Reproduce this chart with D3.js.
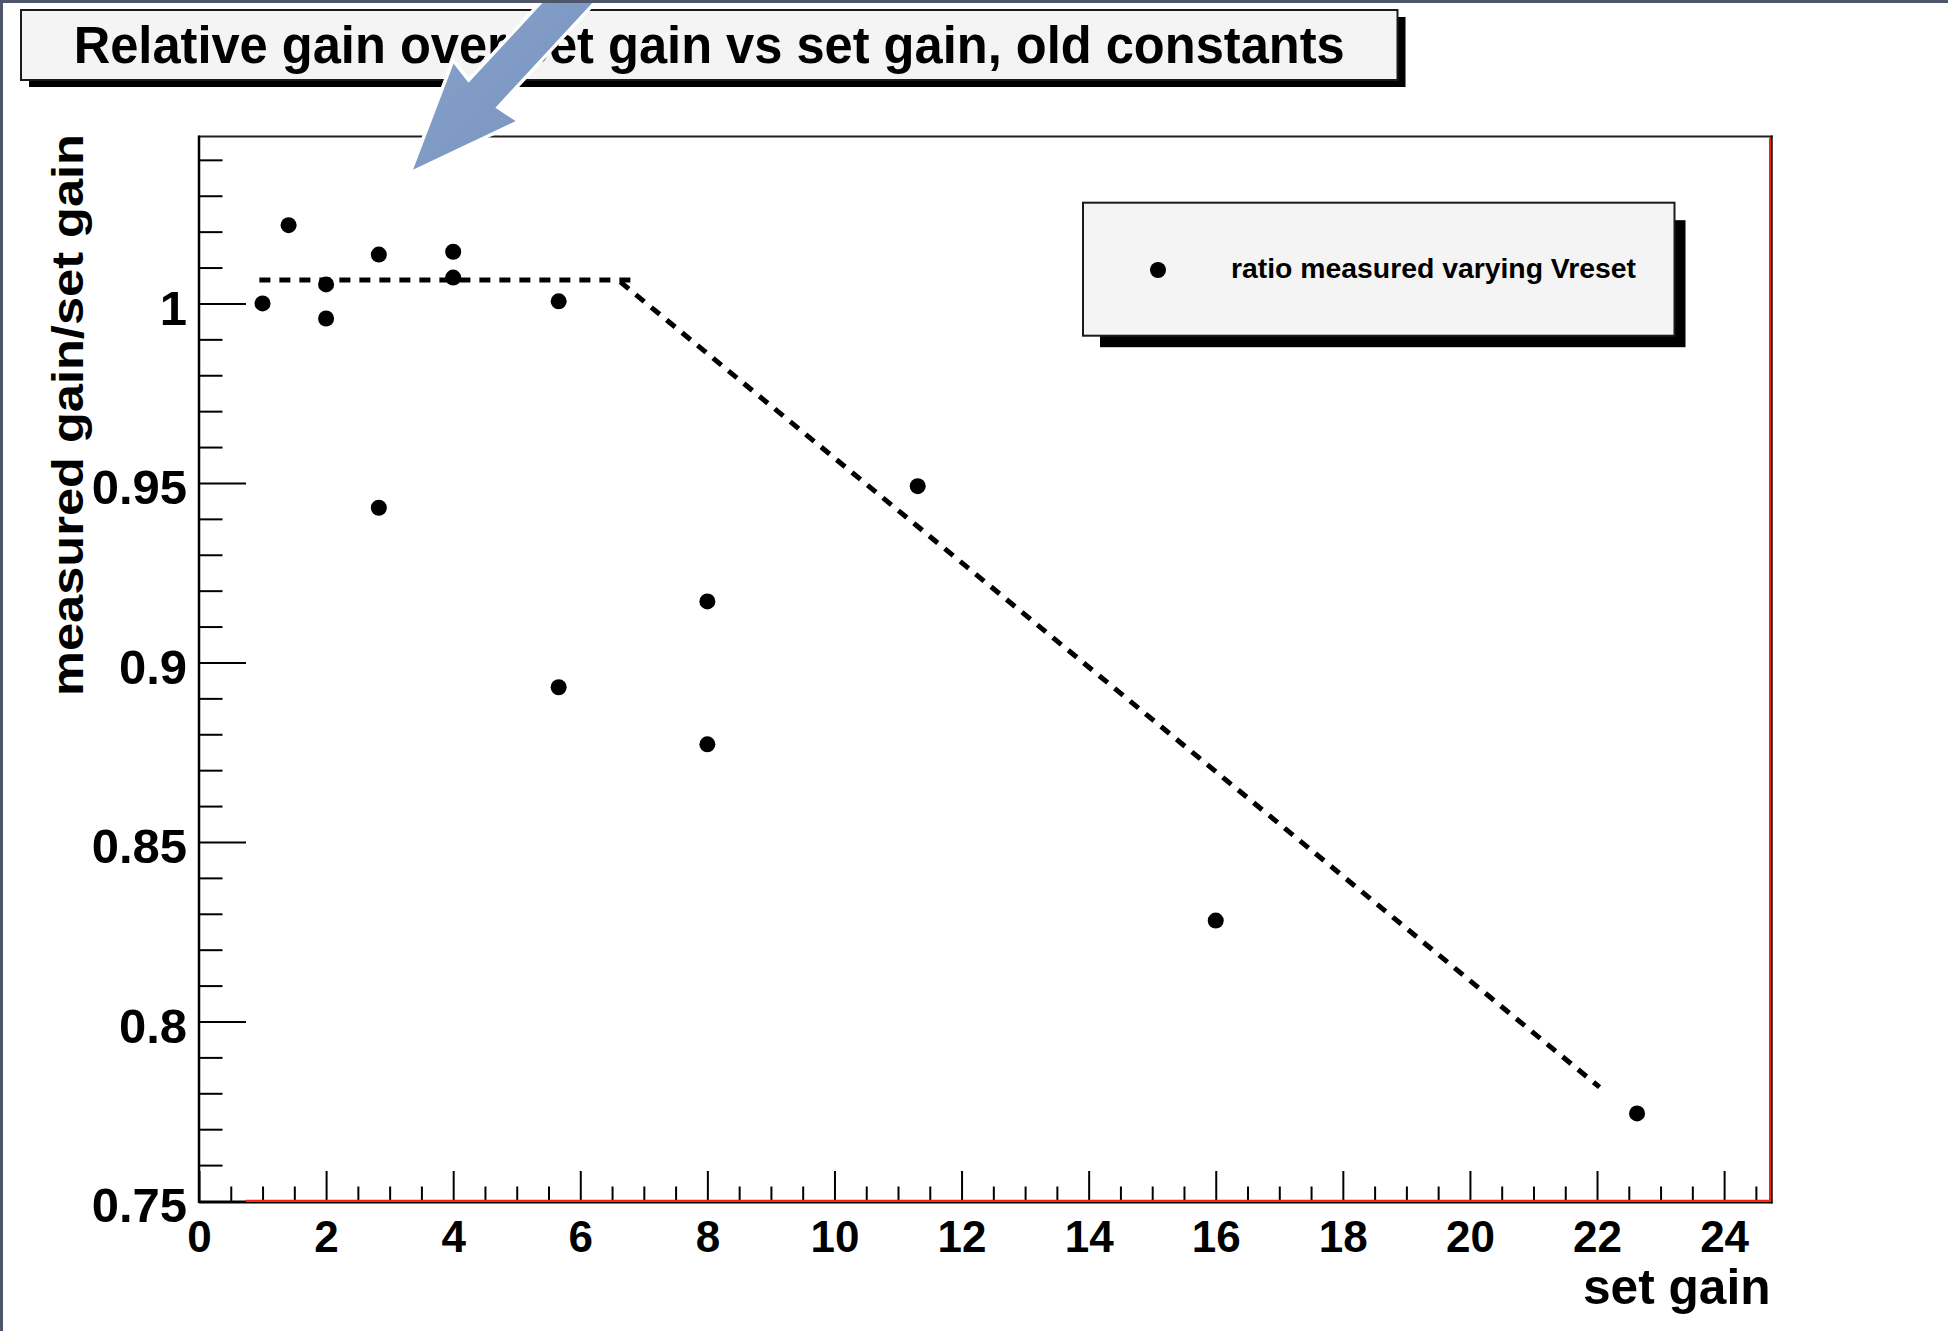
<!DOCTYPE html>
<html>
<head>
<meta charset="utf-8">
<script src="https://cdn.jsdelivr.net/npm/d3@7"></script>
<style>
  html, body { margin: 0; padding: 0; background: #ffffff; }
  svg { display: block; }
  text { font-family: "Liberation Sans", Arial, Helvetica, sans-serif; font-weight: bold; fill: #000; }
</style>
</head>
<body>
<svg id="chart" width="1948" height="1331"></svg>
<script>
// ---- data ----
const setGain   = [1, 1.41, 2, 2, 2.83, 2.83, 4, 4, 5.66, 5.66, 8, 8, 11.31, 16, 22.63];
const gainRatio = [1.000, 1.0218, 1.0053, 0.9958, 1.0136, 0.9431, 1.0144, 1.0072, 1.0006, 0.8931, 0.917, 0.8772, 0.9491, 0.8281, 0.7744];

// dashed guide: flat plateau, then a falling slope
const plateauX = [0.95, 6.84];
const plateauY = [1.0065, 1.0065];
const slopeX   = [6.63, 22.04];
const slopeY   = [1.006, 0.7817];

const xMajorTicks = [0, 2, 4, 6, 8, 10, 12, 14, 16, 18, 20, 22, 24];
const yMajorTicks = [0.75, 0.8, 0.85, 0.9, 0.95, 1];
const yTickLabels = ["0.75", "0.8", "0.85", "0.9", "0.95", "1"];

const titleText   = "Relative gain over set gain vs set gain, old constants";
const xTitle      = "set gain";
const yTitle      = "measured gain/set gain";
const legendLabel = "ratio measured varying Vreset";

// ---- layout ----
const W = 1948, H = 1331;
const frame = { left: 199, top: 136.5, right: 1770.5, bottom: 1201 };
const xDomain = [0, 24.73];
const yDomain = [0.75, 1.0465];

const svg = d3.select("#chart");

const x = d3.scaleLinear().domain(xDomain).range([frame.left, frame.right]);
const y = d3.scaleLinear().domain(yDomain).range([frame.bottom, frame.top]);

svg.append("rect").attr("x", 0).attr("y", 0).attr("width", W).attr("height", H).attr("fill", "#ffffff");

// ---- title box with drop shadow ----
const tb = { x: 21, y: 10, w: 1376.5, h: 70 };
svg.append("rect").attr("x", tb.x + 8).attr("y", tb.y + 7).attr("width", tb.w).attr("height", tb.h).attr("fill", "#000");
svg.append("rect").attr("x", tb.x).attr("y", tb.y).attr("width", tb.w).attr("height", tb.h)
  .attr("fill", "#f4f4f4").attr("stroke", "#1a1a1a").attr("stroke-width", 2);
svg.append("text").attr("x", 73.7).attr("y", 63)
  .attr("font-size", 51).attr("textLength", 1271).attr("lengthAdjust", "spacingAndGlyphs")
  .text(titleText);

// ---- axes ----
const yMinor = d3.range(0.75, 1.0451, 0.01).map(v => +v.toFixed(2)).filter(v => !yMajorTicks.includes(v));
const xMinor = d3.range(0, 24.51, 0.5).filter(v => v % 2 !== 0);

const gx = svg.append("g").attr("transform", `translate(0,${frame.bottom})`);
gx.append("g").call(d3.axisBottom(x).tickValues(xMinor).tickSizeInner(-14.5).tickSizeOuter(0).tickFormat(""));
gx.append("g").call(d3.axisBottom(x).tickValues(xMajorTicks).tickSizeInner(-30).tickSizeOuter(0)
  .tickPadding(20).tickFormat(d3.format("d")));
gx.selectAll(".domain").remove();
gx.selectAll("line").attr("stroke", "#000").attr("stroke-width", 2);
gx.selectAll("text").attr("font-size", 44).attr("font-family", "Liberation Sans, Arial, sans-serif")
  .attr("font-weight", "bold").attr("fill", "#000");

const gy = svg.append("g").attr("transform", `translate(${frame.left},0)`);
gy.append("g").call(d3.axisLeft(y).tickValues(yMinor).tickSizeInner(-23.5).tickSizeOuter(0).tickFormat(""));
gy.append("g").call(d3.axisLeft(y).tickValues(yMajorTicks).tickSizeInner(-47).tickSizeOuter(0)
  .tickPadding(12).tickFormat((d, i) => yTickLabels[i]));
gy.selectAll(".domain").remove();
gy.selectAll("line").attr("stroke", "#000").attr("stroke-width", 2);
gy.selectAll("text").attr("font-size", 49).attr("dy", "0.42em").attr("font-family", "Liberation Sans, Arial, sans-serif")
  .attr("font-weight", "bold").attr("fill", "#000");

// ---- frame ----
svg.append("line").attr("x1", frame.left).attr("x2", frame.right + 2).attr("y1", frame.top).attr("y2", frame.top)
  .attr("stroke", "#222").attr("stroke-width", 2);
svg.append("line").attr("x1", frame.left).attr("x2", frame.left).attr("y1", frame.top - 1).attr("y2", frame.bottom + 2)
  .attr("stroke", "#000").attr("stroke-width", 2.5);
// bottom edge: black base with red frame line
svg.append("line").attr("x1", frame.left).attr("x2", frame.right + 2).attr("y1", frame.bottom + 1.5).attr("y2", frame.bottom + 1.5)
  .attr("stroke", "#000").attr("stroke-width", 2);
svg.append("line").attr("x1", frame.left + 47).attr("x2", frame.right).attr("y1", frame.bottom - 0.3).attr("y2", frame.bottom - 0.3)
  .attr("stroke", "#ff1e0a").attr("stroke-width", 2);
// right edge
svg.append("line").attr("x1", frame.right + 1.3).attr("x2", frame.right + 1.3).attr("y1", frame.top - 1).attr("y2", frame.bottom + 2.5)
  .attr("stroke", "#000").attr("stroke-width", 1.8);
svg.append("line").attr("x1", frame.right - 0.5).attr("x2", frame.right - 0.5).attr("y1", frame.top + 1).attr("y2", frame.bottom)
  .attr("stroke", "#ff1e0a").attr("stroke-width", 2);

// ---- axis titles ----
svg.append("text").attr("x", frame.right).attr("y", 1304).attr("text-anchor", "end")
  .attr("font-size", 50).attr("textLength", 187.5).attr("lengthAdjust", "spacingAndGlyphs").text(xTitle);
svg.append("text").attr("transform", "translate(83,696) rotate(-90)")
  .attr("font-size", 44).attr("textLength", 562).attr("lengthAdjust", "spacingAndGlyphs").text(yTitle);

// ---- dashed guide lines ----
const line = d3.line().x(d => x(d[0])).y(d => y(d[1]));
svg.append("path").datum(d3.zip(plateauX, plateauY)).attr("d", line)
  .attr("fill", "none").attr("stroke", "#000").attr("stroke-width", 5).attr("stroke-dasharray", "11,9");
svg.append("path").datum(d3.zip(slopeX, slopeY)).attr("d", line)
  .attr("fill", "none").attr("stroke", "#000").attr("stroke-width", 5).attr("stroke-dasharray", "11,9");

// ---- measured points ----
svg.append("g").selectAll("circle").data(d3.zip(setGain, gainRatio)).join("circle")
  .attr("cx", d => x(d[0])).attr("cy", d => y(d[1])).attr("r", 8).attr("fill", "#000");

// ---- legend ----
const lb = { x: 1083, y: 202.7, w: 591.5, h: 133 };
svg.append("rect").attr("x", lb.x + 17).attr("y", lb.y + 17.5).attr("width", lb.w - 6).attr("height", lb.h - 6)
  .attr("fill", "#000");
svg.append("rect").attr("x", lb.x).attr("y", lb.y).attr("width", lb.w).attr("height", lb.h)
  .attr("fill", "#f4f4f4").attr("stroke", "#1a1a1a").attr("stroke-width", 2);
svg.append("circle").attr("cx", 1158).attr("cy", 270).attr("r", 8).attr("fill", "#000");
svg.append("text").attr("x", 1231).attr("y", 277.5).attr("font-size", 28)
  .attr("textLength", 405).attr("lengthAdjust", "spacingAndGlyphs").text(legendLabel);

// ---- callout arrow ----
const tip = [410, 173];
const u = [0.679, -0.734];          // from tip back along the shaft
const n = [0.734, 0.679];           // perpendicular
const headLen = 112, headHalf = 45, shaftHalf = 20, shaftLen = 340;
const P = (t, s) => [tip[0] + u[0] * t + n[0] * s, tip[1] + u[1] * t + n[1] * s];
const arrowPts = [
  P(0, 0), P(headLen, headHalf), P(headLen - 4, shaftHalf), P(shaftLen, shaftHalf),
  P(shaftLen, -shaftHalf), P(headLen - 4, -shaftHalf), P(headLen, -headHalf)
];
const defs = svg.append("defs");
const grad = defs.append("linearGradient").attr("id", "arrowFill")
  .attr("x1", "0%").attr("y1", "0%").attr("x2", "100%").attr("y2", "100%");
grad.append("stop").attr("offset", "0%").attr("stop-color", "#8aa5cc");
grad.append("stop").attr("offset", "100%").attr("stop-color", "#7591bd");
svg.append("path").attr("d", "M" + arrowPts.map(p => p.join(",")).join("L") + "Z")
  .attr("fill", "url(#arrowFill)").attr("stroke", "#ffffff").attr("stroke-width", 3.5).attr("stroke-linejoin", "miter");

// ---- outer page edges ----
svg.append("rect").attr("x", 0).attr("y", 0).attr("width", W).attr("height", 3).attr("fill", "#50566a");
svg.append("rect").attr("x", 0).attr("y", 0).attr("width", 3).attr("height", H).attr("fill", "#50566a");
</script>
</body>
</html>
